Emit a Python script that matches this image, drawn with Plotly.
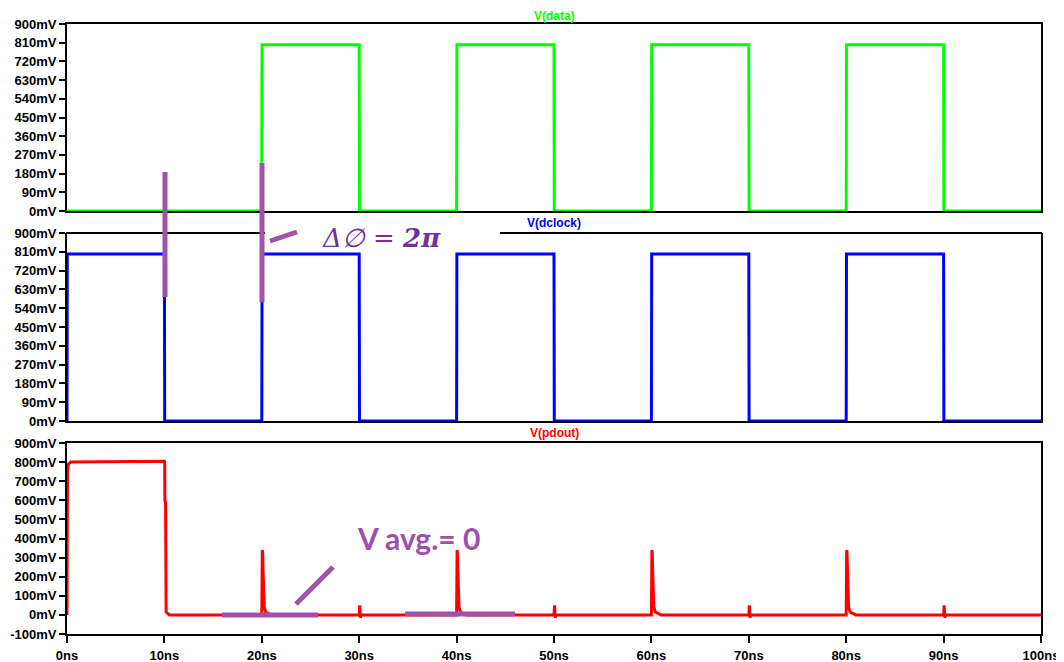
import plotly.graph_objects as go

# ---------------- data (time in ns, voltage in mV) ----------------
data_t = [0, 20.0, 20.01, 20.03, 30.0, 30.01, 30.03,
          40.0, 40.01, 40.03, 50.0, 50.01, 50.03,
          60.0, 60.01, 60.03, 70.0, 70.01, 70.03,
          80.0, 80.01, 80.03, 90.0, 90.01, 90.03, 100]
data_v = [0, 0, 570, 800, 800, 150, 0,
          0, 570, 800, 800, 150, 0,
          0, 570, 800, 800, 150, 0,
          0, 570, 800, 800, 150, 0, 0]

dclock_t = [0, 0.01, 0.03, 10.0, 10.01, 10.03,
            20.0, 20.01, 20.03, 30.0, 30.01, 30.03,
            40.0, 40.01, 40.03, 50.0, 50.01, 50.03,
            60.0, 60.01, 60.03, 70.0, 70.01, 70.03,
            80.0, 80.01, 80.03, 90.0, 90.01, 90.03, 100]
dclock_v = [0, 360, 800, 800, 600, 0,
            0, 580, 800, 800, 150, 0,
            0, 580, 800, 800, 150, 0,
            0, 580, 800, 800, 150, 0,
            0, 580, 800, 800, 150, 0, 0]

pdout_t = [0, 0.02, 0.05, 0.15, 0.4, 10.0, 10.03, 10.05, 10.12, 10.18, 10.5,
           20.0, 20.05, 20.08, 20.15, 20.25, 20.4, 20.7, 21.0,
           30.0, 30.03, 30.06, 30.12, 30.15, 30.2,
           40.0, 40.05, 40.08, 40.15, 40.25, 40.4, 40.7, 41.0,
           50.0, 50.03, 50.06, 50.12, 50.15, 50.2,
           60.0, 60.05, 60.08, 60.15, 60.25, 60.4, 60.7, 61.0,
           70.0, 70.03, 70.06, 70.12, 70.15, 70.2,
           80.0, 80.05, 80.08, 80.15, 80.25, 80.4, 80.7, 81.0,
           90.0, 90.03, 90.06, 90.12, 90.15, 90.2,
           100]
pdout_v = [0, 150, 750, 790, 800, 805, 800, 600, 590, 15, 0,
           0, 340, 330, 200, 40, 15, 8, 0,
           0, 50, 50, -15, 0, 0,
           0, 340, 330, 200, 40, 15, 8, 0,
           0, 50, 50, -15, 0, 0,
           0, 340, 330, 200, 40, 15, 8, 0,
           0, 50, 50, -15, 0, 0,
           0, 340, 330, 200, 40, 15, 8, 0,
           0, 50, 50, -15, 0, 0,
           0]

x_tickvals = [0, 10, 20, 30, 40, 50, 60, 70, 80, 90, 100]
x_ticktext = ["0ns", "10ns", "20ns", "30ns", "40ns", "50ns", "60ns", "70ns", "80ns", "90ns", "100ns"]
y12_tickvals = [0, 90, 180, 270, 360, 450, 540, 630, 720, 810, 900]
y12_ticktext = ["0mV", "90mV", "180mV", "270mV", "360mV", "450mV", "540mV", "630mV", "720mV", "810mV", "900mV"]
y3_tickvals = [-100, 0, 100, 200, 300, 400, 500, 600, 700, 800, 900]
y3_ticktext = ["-100mV", "0mV", "100mV", "200mV", "300mV", "400mV", "500mV", "600mV", "700mV", "800mV", "900mV"]

titles = ["V(data)", "V(dclock)", "V(pdout)"]
colors = ["#00FF00", "#0000FF", "#FF0000"]

# ---------------- layout geometry ----------------
# page body has an 8px margin, so the figure starts at (8, 8) of the window
OFF = 8
W, H = 1064 - OFF, 662 - OFF
X0, X1 = 67, 1041          # plot area, window pixels
Y0, Y1 = 24, 634
L, T = X0 - OFF, Y0 - OFF
R, B = W - (X1 - OFF), H - (Y1 - OFF)
PW, PH = X1 - X0, Y1 - Y0

def px(xp):
    return (xp - X0) / PW

def py(yp):
    return (Y1 - yp) / PH

dom1 = [py(211), 1.0]
dom2 = [py(421), py(233)]
dom3 = [0.0, py(443)]
title_y = [16, 223, 433]

fig = go.Figure()
fig.add_trace(go.Scatter(x=data_t, y=data_v, mode="lines", line=dict(color=colors[0], width=3),
                         xaxis="x", yaxis="y", cliponaxis=False, hoverinfo="skip"))
fig.add_trace(go.Scatter(x=dclock_t, y=dclock_v, mode="lines", line=dict(color=colors[1], width=3),
                         xaxis="x2", yaxis="y2", cliponaxis=False, hoverinfo="skip"))
fig.add_trace(go.Scatter(x=pdout_t, y=pdout_v, mode="lines", line=dict(color=colors[2], width=3),
                         xaxis="x3", yaxis="y3", cliponaxis=False, hoverinfo="skip"))

tickfont = dict(family="Liberation Sans, Arial, sans-serif", size=13, color="black", weight="bold")

common_x = dict(range=[0, 100], showgrid=False, zeroline=False, showline=True, linecolor="black",
                linewidth=2, layer="below traces", automargin=False)
common_y = dict(showgrid=False, zeroline=False, showline=True, linecolor="black", linewidth=2,
                mirror=True, ticks="outside", ticklen=6, tickwidth=2, tickcolor="black",
                tickfont=tickfont, layer="below traces", automargin=False, ticklabelstandoff=0)

fig.update_layout(
    width=W, height=H,
    margin=dict(l=L, r=R, t=T, b=B, autoexpand=False),
    paper_bgcolor="white", plot_bgcolor="white",
    showlegend=False,
    xaxis=dict(**common_x, domain=[0, 1], anchor="y", showticklabels=False, ticks="", mirror=True),
    yaxis=dict(**common_y, domain=dom1, anchor="x", range=[0, 900],
               tickvals=y12_tickvals, ticktext=y12_ticktext),
    xaxis2=dict(**common_x, domain=[0, 1], anchor="y2", showticklabels=False, ticks="", mirror=False),
    yaxis2=dict(**common_y, domain=dom2, anchor="x2", range=[0, 900],
                tickvals=y12_tickvals, ticktext=y12_ticktext),
    xaxis3=dict(**common_x, domain=[0, 1], anchor="y3", mirror=True, ticks="outside", ticklen=7,
                tickwidth=2, tickcolor="black", tickvals=x_tickvals, ticktext=x_ticktext,
                tickfont=tickfont, ticklabelstandoff=1),
    yaxis3=dict(**common_y, domain=dom3, anchor="x3", range=[-100, 900],
                tickvals=y3_tickvals, ticktext=y3_ticktext),
)

# panel titles
annotations = []
for title, col, ty in zip(titles, colors, title_y):
    annotations.append(dict(text=title, x=0.5, y=py(ty), xref="paper", yref="paper",
                            xanchor="center", yanchor="middle", showarrow=False,
                            font=dict(family="Liberation Sans, Arial, sans-serif", size=12,
                                      color=col, weight="bold")))

annotations.append(dict(text="<i>Δ∅</i> = <b><i>2π</i></b>", x=px(381), y=py(238),
                        xref="paper", yref="paper", xanchor="center", yanchor="middle",
                        showarrow=False,
                        font=dict(family="DejaVu Serif, Liberation Serif, serif", size=26, color="#7030A0")))
annotations.append(dict(text="V avg.= 0", x=px(418), y=py(538),
                        xref="paper", yref="paper", xanchor="center", yanchor="middle",
                        showarrow=False,
                        font=dict(family="Lato, Open Sans, sans-serif", size=30, color="#9E4FAA",
                                  weight="bold")))
fig.update_layout(annotations=annotations)

# panel-2 top border (interrupted by the annotation)
shapes = [
    dict(type="line", xref="paper", yref="paper", x0=px(66), x1=px(265), y0=py(233), y1=py(233),
         line=dict(color="black", width=2), layer="below"),
    dict(type="line", xref="paper", yref="paper", x0=px(500), x1=px(1042), y0=py(233), y1=py(233),
         line=dict(color="black", width=2), layer="below"),
]
purple = "#A052A8"
marks = [((165, 172), (165, 297)),
         ((262, 163), (262, 302)),
         ((270, 241), (297, 232)),
         ((222, 615), (318, 615)),
         ((296, 604), (333, 567)),
         ((405, 614), (515, 614))]
for (xa, ya), (xb, yb) in marks:
    shapes.append(dict(type="line", xref="paper", yref="paper", x0=px(xa), y0=py(ya),
                       x1=px(xb), y1=py(yb), line=dict(color=purple, width=5), layer="above"))
fig.update_layout(shapes=shapes)

fig.write_html("out.html")
